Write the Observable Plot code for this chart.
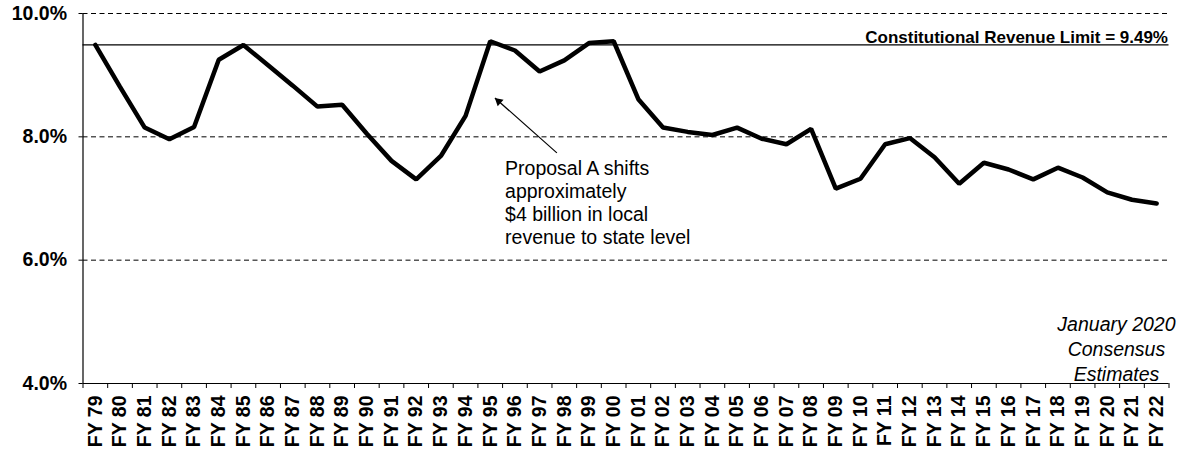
<!DOCTYPE html>
<html>
<head>
<meta charset="utf-8">
<script src="https://cdn.jsdelivr.net/npm/d3@7"></script>
<script src="https://cdn.jsdelivr.net/npm/@observablehq/plot@0.6"></script>
<style>
  body { margin: 0; background: #fff; }
  svg { display: block; }
</style>
</head>
<body>
<div id="chart"></div>
<script>
const years = ["FY 79","FY 80","FY 81","FY 82","FY 83","FY 84","FY 85","FY 86","FY 87","FY 88","FY 89","FY 90","FY 91","FY 92","FY 93","FY 94","FY 95","FY 96","FY 97","FY 98","FY 99","FY 00","FY 01","FY 02","FY 03","FY 04","FY 05","FY 06","FY 07","FY 08","FY 09","FY 10","FY 11","FY 12","FY 13","FY 14","FY 15","FY 16","FY 17","FY 18","FY 19","FY 20","FY 21","FY 22"];
const values = [9.49,8.81,8.15,7.96,8.16,9.25,9.49,9.16,8.83,8.49,8.52,8.05,7.61,7.31,7.69,8.34,9.55,9.40,9.06,9.24,9.52,9.55,8.61,8.15,8.08,8.03,8.15,7.97,7.88,8.13,7.16,7.32,7.88,7.98,7.67,7.24,7.58,7.47,7.31,7.50,7.34,7.10,6.98,6.92];
const yTicks = [4, 6, 8, 10];
const gridLines = [6, 8, 10];
const revenueLimit = [9.49];
const limitLabel = ["Constitutional Revenue Limit = 9.49%"];
const annotationText = ["Proposal A shifts\napproximately\n$4 billion in local\nrevenue to state level"];
const noteText = ["January 2020\nConsensus\nEstimates"];
// annotation anchors in data units: [category index, percent]
const arrowFrom = [18.7, 7.74];
const arrowTo = [16.19, 8.63];
const annotationPos = [16.6, 6.94];
const notePos = [41.37, 4.57];
const limitLabelPos = [43.5, 9.61];

const data = years.map((year, i) => ({i, year, value: values[i]}));
const n = years.length;

const font = "'Liberation Sans', Arial, Helvetica, sans-serif";

const chart = Plot.plot({
  width: 1181,
  height: 453,
  marginLeft: 82.5,
  marginRight: 12.5,
  marginTop: 13,
  marginBottom: 70,
  style: {fontFamily: font, fontSize: "19.5px", color: "black", background: "white"},
  x: {type: "linear", domain: [-0.5, n - 0.5]},
  y: {domain: [4, 10]},
  marks: [
    Plot.ruleY(gridLines, {stroke: "black", strokeWidth: 1, strokeDasharray: "5,3.5"}),
    Plot.ruleY(revenueLimit, {stroke: "black", strokeWidth: 1.2}),
    Plot.ruleY([4], {stroke: "black", strokeWidth: 1.2}),
    Plot.ruleX([-0.5], {y1: 4, y2: 10, stroke: "black", strokeWidth: 1.2}),
    Plot.axisY({ticks: yTicks, tickFormat: d => d.toFixed(1) + "%", tickSize: 4, tickPadding: 12, label: null, fontWeight: "bold", fontSize: 19.5}),
    Plot.axisX({ticks: d3.range(n), tickFormat: i => years[i], tickRotate: -90, tickSize: 0, tickPadding: 12, label: null, fontWeight: "bold", fontSize: 19.5}),
    Plot.axisX({ticks: d3.range(n + 1).map(i => i - 0.5), tickFormat: () => "", tickSize: 5, label: null}),
    Plot.line(data, {x: "i", y: "value", stroke: "black", strokeWidth: 4.5, strokeLinejoin: "miter", strokeLinecap: "round"}),
    Plot.link([{x1: arrowFrom[0], y1: arrowFrom[1], x2: arrowTo[0], y2: arrowTo[1]}], {x1: "x1", y1: "y1", x2: "x2", y2: "y2", stroke: "black", strokeWidth: 1.2}),
    Plot.dot([arrowTo], {x: d => d[0], y: d => d[1], symbol: "triangle", r: 3.3, fill: "black", stroke: "none", rotate: -48.6, dx: 3.75, dy: 3.3}),
    Plot.text(limitLabel, {x: () => limitLabelPos[0], y: () => limitLabelPos[1], text: d => d, textAnchor: "end", dx: -1, fontSize: 17, fontWeight: "bold"}),
    Plot.text(annotationText, {x: () => annotationPos[0], y: () => annotationPos[1], text: d => d, textAnchor: "start", lineAnchor: "middle", lineHeight: 1.19, fontSize: 19.5}),
    Plot.text(noteText, {x: () => notePos[0], y: () => notePos[1], text: d => d, textAnchor: "middle", lineAnchor: "middle", lineHeight: 1.28, fontSize: 19.5, fontStyle: "italic"})
  ]
});
document.getElementById("chart").appendChild(chart);
</script>
</body>
</html>
